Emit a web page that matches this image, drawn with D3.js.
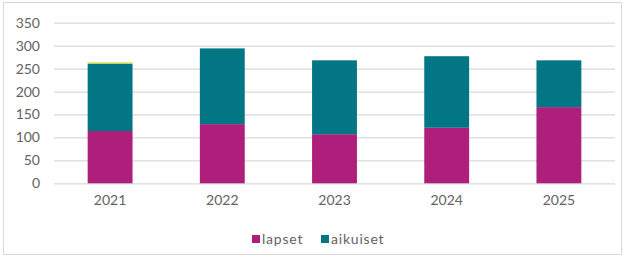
<!DOCTYPE html>
<html>
<head>
<meta charset="utf-8">
<script src="https://cdn.jsdelivr.net/npm/d3@7"></script>
<style>
  body { margin: 0; background: #fff; }
  text { font-family: "Century Gothic", "Lato", sans-serif; fill: #636363; }
</style>
</head>
<body>
<div id="chart"></div>
<script>
const years = ["2021", "2022", "2023", "2024", "2025"];
const lapset = [114, 129, 107, 121, 166];
const aikuiset = [147, 165, 161, 156, 102];
const muut = [3, 0, 0, 0, 0];
const yTicks = [0, 50, 100, 150, 200, 250, 300, 350];

const width = 626;
const height = 258;
const margin = { left: 54, right: 11, top: 22.7, bottom: 74.7 };

const keys = ["lapset", "aikuiset", "muut"];
const colors = { lapset: "#ad1f7b", aikuiset: "#037686", muut: "#e6e64a" };
const legendKeys = ["lapset", "aikuiset"];

const rows = years.map((y, i) => ({
  year: y,
  lapset: lapset[i],
  aikuiset: aikuiset[i],
  muut: muut[i],
}));

const stacked = d3.stack().keys(keys)(rows);

const svg = d3
  .select("#chart")
  .append("svg")
  .attr("width", width)
  .attr("height", height);

// outer frame
svg
  .append("rect")
  .attr("x", 3.5)
  .attr("y", 2.5)
  .attr("width", 618)
  .attr("height", 252)
  .attr("fill", "none")
  .attr("stroke", "#d9d9d9");

const xScale = d3
  .scaleBand()
  .domain(years)
  .range([margin.left, width - margin.right])
  .paddingInner(0.6)
  .paddingOuter(0.3);

const yScale = d3
  .scaleLinear()
  .domain([0, 350])
  .range([height - margin.bottom, margin.top]);

// gridlines + y labels
const yAxis = d3
  .axisLeft(yScale)
  .tickValues(yTicks)
  .tickSize(-(width - margin.left - margin.right))
  .tickPadding(14);

svg
  .append("g")
  .attr("transform", `translate(${margin.left}, 0)`)
  .call(yAxis)
  .call((g) => {
    g.select(".domain").remove();
    g.selectAll("line").attr("stroke", "#d9d9d9").attr("stroke-width", 1.2);
    g.selectAll("text")
      .attr("font-size", 14)
      .attr("fill", "#636363")
      .attr("font-family", null);
  });

// bars
svg
  .append("g")
  .selectAll("g")
  .data(stacked)
  .join("g")
  .attr("fill", (d) => colors[d.key])
  .selectAll("rect")
  .data((d) => d)
  .join("rect")
  .attr("x", (d) => xScale(d.data.year))
  .attr("width", xScale.bandwidth())
  .attr("y", (d) => yScale(d[1]))
  .attr("height", (d) => yScale(d[0]) - yScale(d[1]));

// x labels
const xAxis = d3.axisBottom(xScale).tickSize(0).tickPadding(12);
svg
  .append("g")
  .attr("transform", `translate(0, ${height - margin.bottom})`)
  .call(xAxis)
  .call((g) => {
    g.select(".domain").remove();
    g.selectAll("text")
      .attr("font-size", 14)
      .attr("fill", "#636363")
      .attr("font-family", null);
  });

// legend
const legendPos = { lapset: 252, aikuiset: 321 };
const legend = svg
  .append("g")
  .selectAll("g")
  .data(legendKeys)
  .join("g")
  .attr("transform", (d) => `translate(${legendPos[d]}, 239)`);

legend
  .append("rect")
  .attr("x", 0)
  .attr("y", -4)
  .attr("width", 8)
  .attr("height", 8)
  .attr("fill", (d) => colors[d]);

legend
  .append("text")
  .attr("x", 10)
  .attr("dy", "0.35em")
  .attr("font-size", 14)
  .attr("letter-spacing", 0.8)
  .text((d) => d);
</script>
</body>
</html>
